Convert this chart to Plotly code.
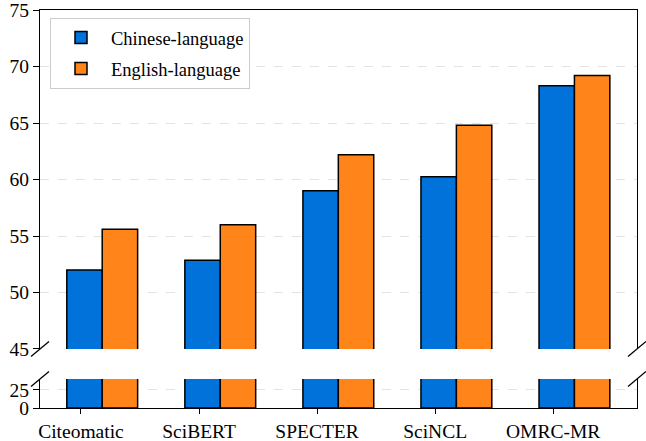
import plotly.graph_objects as go
from plotly.subplots import make_subplots

categories = ["Citeomatic", "SciBERT", "SPECTER", "SciNCL", "OMRC-MR"]
chinese = [52.0, 52.85, 59.0, 60.25, 68.3]
english = [55.6, 56.0, 62.2, 64.8, 69.2]
series_names = ["Chinese-language", "English-language"]
top_ticks = [45, 50, 55, 60, 65, 70, 75]
bottom_ticks = [0, 25]

BLUE = "#0072DA"
ORANGE = "#FF851B"
FONT = "Liberation Serif"

W, H = 646, 441
ml, mr, mt, mb = 40, 9, 10, 33
pw, ph = W - ml - mr, H - mt - mb
top_dom = [(H - mb - 349) / ph, 1.0]
bot_dom = [0.0, (H - mb - 379) / ph]

fig = make_subplots(rows=2, cols=1, shared_xaxes=False, vertical_spacing=0.0)

xs = list(range(len(categories)))
bar_w = 0.3
offsets = [-0.12, 0.18]
for row in (1, 2):
    for name, vals, col, off in zip(series_names, [chinese, english], [BLUE, ORANGE], offsets):
        fig.add_trace(go.Bar(
            x=xs, y=vals, name=name, width=bar_w, offset=off,
            marker=dict(color=col, line=dict(color="black", width=1.5)),
            showlegend=(row == 1), legendgroup=name, hoverinfo="y+name"),
            row=row, col=1)

tickfont = dict(family=FONT, size=19.5, color="black")
xr = [-0.347, 4.71]
fig.update_layout(
    width=W, height=H, margin=dict(l=ml, r=mr, t=mt, b=mb, autoexpand=False),
    plot_bgcolor="white", paper_bgcolor="white",
    barmode="overlay",
    font=dict(family=FONT, size=19, color="black"),
    legend=dict(x=(50 - ml) / pw, y=(H - mb - 18) / ph, xanchor="left", yanchor="top",
                bgcolor="white", bordercolor="#cccccc", borderwidth=1,
                font=dict(family=FONT, size=18.5, color="black"),
                itemwidth=50, tracegroupgap=4),
    xaxis=dict(domain=[0, 1], range=xr, side="top", showline=True, linecolor="black", linewidth=1.2,
               showticklabels=False, ticks="", showgrid=False, zeroline=False,
               anchor="y", automargin=False),
    yaxis=dict(domain=top_dom, range=[44.999, 75.001], tickvals=top_ticks, ticks="outside", ticklen=6,
               tickcolor="black", tickwidth=1.2, showline=True, mirror=True, linecolor="black",
               linewidth=1.2, showgrid=True, gridcolor="#e3e3e3", griddash="dash", gridwidth=1,
               zeroline=False, tickfont=tickfont, automargin=False, ticklabeloverflow="allow"),
    xaxis2=dict(domain=[0, 1], range=xr, tickvals=xs, ticktext=categories, ticks="outside",
                ticklen=5, tickcolor="black", tickwidth=1.2, showline=True, linecolor="black",
                linewidth=1.2, showgrid=False, zeroline=False, anchor="y2", tickfont=tickfont,
                automargin=False, ticklabeloverflow="allow"),
    yaxis2=dict(domain=bot_dom, range=[0, 40], tickvals=bottom_ticks, ticks="outside", ticklen=6,
                tickcolor="black", tickwidth=1.2, showline=True, mirror=True, linecolor="black",
                linewidth=1.2, showgrid=True, gridcolor="#e3e3e3", griddash="dash", gridwidth=1,
                zeroline=False, tickfont=tickfont, automargin=False, ticklabeloverflow="allow"),
)

# break marks
dx = 9 / pw
dy = 7.5 / ph
for yc in (top_dom[0], bot_dom[1]):
    for xc in (0, 1):
        fig.add_shape(type="line", xref="paper", yref="paper",
                      x0=xc - dx, x1=xc + dx, y0=yc - dy, y1=yc + dy,
                      line=dict(color="black", width=1.3))

fig.write_html("out.html", config={"displayModeBar": False},
               post_script="document.body.style.margin='0';document.body.style.overflow='hidden';")
